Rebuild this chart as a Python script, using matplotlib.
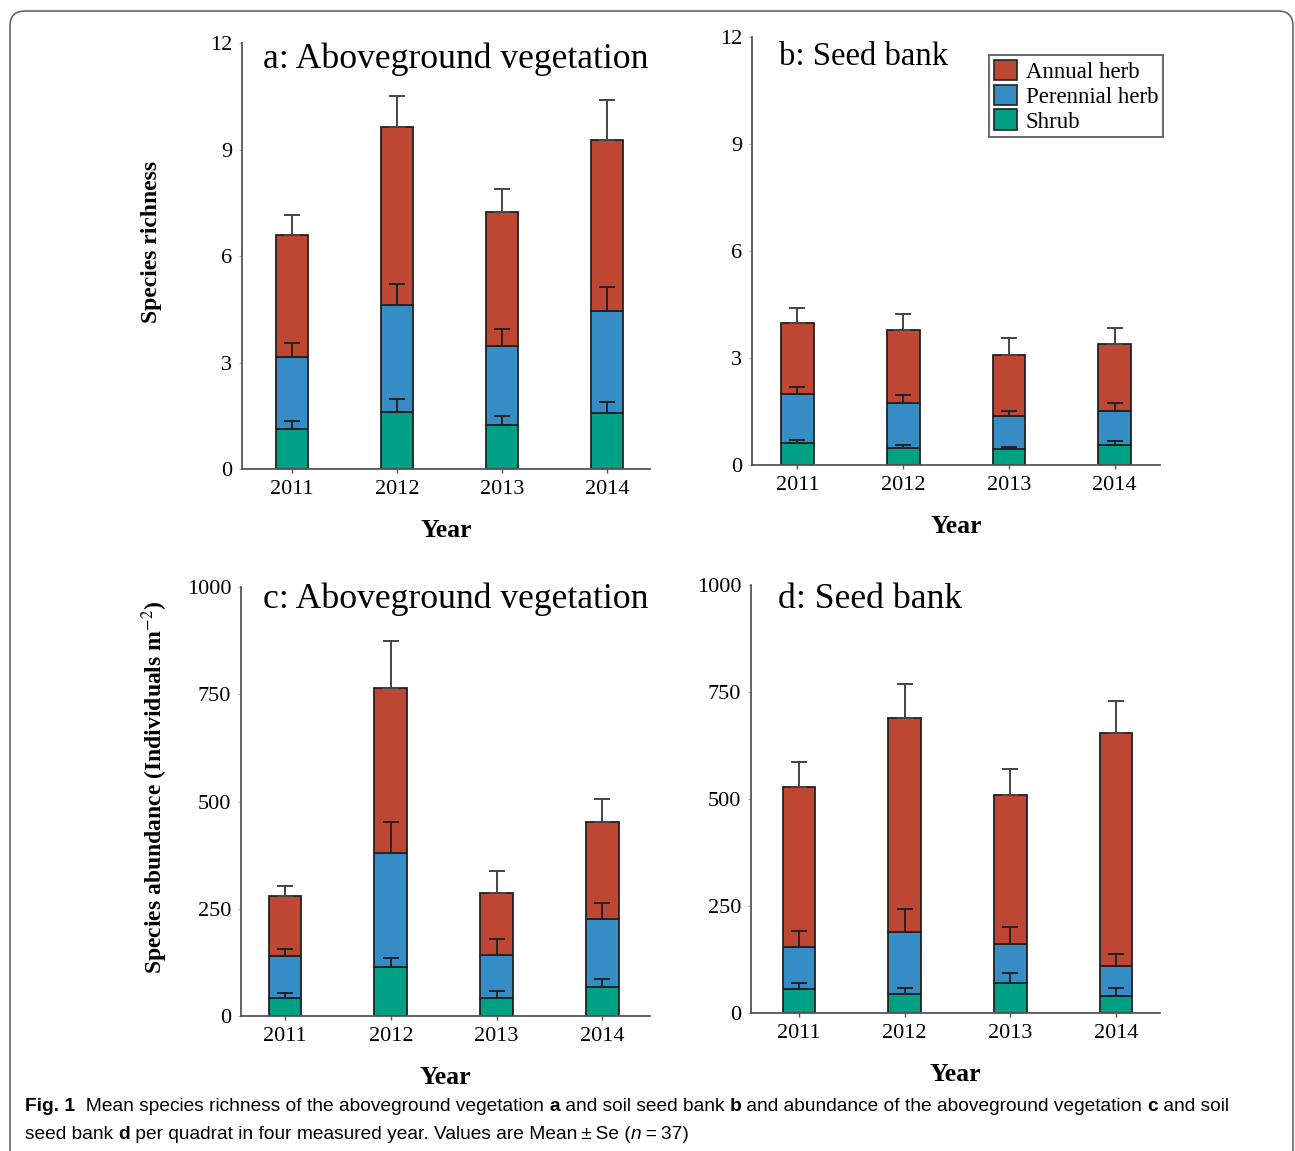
import matplotlib
matplotlib.use('Agg')
import matplotlib.pyplot as plt
from matplotlib.patches import FancyBboxPatch, Patch
import numpy as np

plt.rcParams['font.family'] = ['Liberation Serif', 'DejaVu Serif']
plt.rcParams['mathtext.fontset'] = 'stix'

years = ['2011', '2012', '2013', '2014']
groups = ['Annual herb', 'Perennial herb', 'Shrub']

# a: species richness, aboveground vegetation
a_shrub = [1.13, 1.62, 1.25, 1.58]
a_shrub_se = [0.21, 0.36, 0.23, 0.30]
a_peren = [2.02, 3.00, 2.21, 2.86]
a_peren_se = [0.40, 0.59, 0.49, 0.70]
a_annual = [3.45, 5.01, 3.78, 4.84]
a_annual_se = [0.55, 0.87, 0.65, 1.12]

# b: species richness, seed bank
b_shrub = [0.61, 0.47, 0.44, 0.56]
b_shrub_se = [0.09, 0.09, 0.06, 0.12]
b_peren = [1.38, 1.28, 0.94, 0.96]
b_peren_se = [0.21, 0.20, 0.14, 0.21]
b_annual = [1.99, 2.04, 1.70, 1.87]
b_annual_se = [0.42, 0.45, 0.47, 0.46]

# c: abundance, aboveground vegetation
c_shrub = [41, 114, 42, 67]
c_shrub_se = [13, 21, 16, 19]
c_peren = [99, 267, 100, 159]
c_peren_se = [16, 71, 38, 37]
c_annual = [141, 383, 145, 227]
c_annual_se = [23, 111, 52, 52]

# d: abundance, seed bank
d_shrub = [56, 45, 72, 41]
d_shrub_se = [16, 13, 23, 17]
d_peren = [100, 146, 91, 70]
d_peren_se = [37, 52, 38, 28]
d_annual = [373, 499, 347, 543]
d_annual_se = [59, 78, 60, 75]

col_annual = '#BE4734'
col_peren = '#368DC6'
col_shrub = '#00A085'

fig = plt.figure(figsize=(12.95, 11.51), dpi=100)

# rounded frame round the whole figure
frame = FancyBboxPatch((0.10, -0.3), 12.83, 11.70, boxstyle='round,pad=0,rounding_size=0.15',
                       transform=fig.dpi_scale_trans, facecolor='none', edgecolor='#666666',
                       linewidth=1.2)
fig.patches.append(frame)

panels = [
    ([0.1869, 0.5925, 0.3151, 0.3701], (-0.476, 3.41), 12, [0, 3, 6, 9, 12],
     (a_shrub, a_shrub_se, a_peren, a_peren_se, a_annual, a_annual_se),
     'a: Aboveground vegetation', (0.2031, 0.9409), 25.7),
    ([0.5807, 0.5960, 0.3151, 0.3718], (-0.43, 3.43), 12, [0, 3, 6, 9, 12],
     (b_shrub, b_shrub_se, b_peren, b_peren_se, b_annual, b_annual_se),
     'b: Seed bank', (0.6015, 0.9435), 23.6),
    ([0.1861, 0.1173, 0.3158, 0.3725], (-0.416, 3.45), 1000, [0, 250, 500, 750, 1000],
     (c_shrub, c_shrub_se, c_peren, c_peren_se, c_annual, c_annual_se),
     'c: Aboveground vegetation', (0.2031, 0.4718), 25.7),
    ([0.5799, 0.1196, 0.3158, 0.3721], (-0.454, 3.415), 1000, [0, 250, 500, 750, 1000],
     (d_shrub, d_shrub_se, d_peren, d_peren_se, d_annual, d_annual_se),
     'd: Seed bank', (0.6008, 0.4718), 25.7),
]

axes = []
for rect, xl, ymax, yt, vals, title, tpos, tsize in panels:
    ax = fig.add_axes(rect)
    shrub, shrub_se, peren, peren_se, annual, annual_se = [np.array(v, dtype=float) for v in vals]
    x = np.arange(len(years))
    w = 0.31
    ax.bar(x, shrub, w, color=col_shrub, edgecolor='#222222', linewidth=1.3, zorder=2)
    ax.bar(x, peren, w, bottom=shrub, color=col_peren, edgecolor='#222222', linewidth=1.3, zorder=2)
    ax.bar(x, annual, w, bottom=shrub + peren, color=col_annual, edgecolor='#222222',
           linewidth=1.3, zorder=2)
    tops = [shrub, shrub + peren, shrub + peren + annual]
    ses = [shrub_se, peren_se, annual_se]
    ecols = ['#222222', '#222222', '#444444']
    for top, se, ec in zip(tops, ses, ecols):
        ax.errorbar(x, top, yerr=[np.zeros_like(se), se], fmt='none', ecolor=ec,
                    elinewidth=1.4, capsize=6, capthick=1.4, zorder=3)
    ax.set_xlim(*xl)
    ax.set_ylim(0, ymax)
    ax.set_xticks(x)
    ax.set_xticklabels(years)
    ax.set_yticks(yt)
    ax.spines['top'].set_visible(False)
    ax.spines['right'].set_visible(False)
    for s in ['left', 'bottom']:
        ax.spines[s].set_color('#555555')
        ax.spines[s].set_linewidth(1.3)
    ax.tick_params(axis='x', length=3, width=1, color='#555555', labelsize=16, pad=5)
    ax.tick_params(axis='y', length=2, width=0.8, color='#aaaaaa', labelsize=16, pad=5)
    ax.set_xlabel('Year', fontsize=18.5, fontweight='bold', labelpad=14)
    fig.text(tpos[0], tpos[1], title, fontsize=tsize, va='baseline', ha='left')
    axes.append(ax)

leg_handles = [Patch(facecolor=col_annual, edgecolor='#222222', linewidth=1.2),
               Patch(facecolor=col_peren, edgecolor='#222222', linewidth=1.2),
               Patch(facecolor=col_shrub, edgecolor='#222222', linewidth=1.2)]
leg = axes[1].legend(leg_handles, groups, loc='upper right', bbox_to_anchor=(1.007, 0.958),
                     fontsize=16.5, frameon=True, fancybox=False, edgecolor='#222222',
                     handlelength=1.0, handleheight=1.0, handletextpad=0.4,
                     labelspacing=0.08, borderpad=0.2, borderaxespad=0)
leg.get_frame().set_linewidth(1.2)

fig.text(152 / 1295, 0.79, 'Species richness', rotation=90, fontsize=17,
         fontweight='bold', ha='center', va='center')
fig.text(155 / 1295, 0.3162, r'Species abundance (Individuals m$^{-2}$)', rotation=90,
         fontsize=17, fontweight='bold', ha='center', va='center')

# caption with mixed weights, drawn piece by piece
cap_font = ['Liberation Sans', 'DejaVu Sans']
cap_size = 13.8
renderer = fig.canvas.get_renderer()


def text_width(s, **kw):
    t = fig.text(0, 0, '|' + s + '|', **kw)
    w1 = t.get_window_extent(renderer).width
    t.set_text('||')
    w2 = t.get_window_extent(renderer).width
    t.remove()
    return (w1 - w2) / fig.bbox.width


def caption_line(x, y, parts):
    for s, weight, style in parts:
        kw = dict(family=cap_font, fontsize=cap_size, fontweight=weight, fontstyle=style)
        fig.text(x, y, s, va='baseline', ha='left', **kw)
        x += text_width(s, **kw)


caption_line(25 / 1295, 1 - 1111 / 1151, [
    ('Fig. 1', 'bold', 'normal'),
    ('  Mean species richness of the aboveground vegetation ', 'normal', 'normal'),
    ('a', 'bold', 'normal'),
    (' and soil seed bank ', 'normal', 'normal'),
    ('b', 'bold', 'normal'),
    (' and abundance of the aboveground vegetation ', 'normal', 'normal'),
    ('c', 'bold', 'normal'),
    (' and soil', 'normal', 'normal'),
])
caption_line(25 / 1295, 1 - 1139 / 1151, [
    ('seed bank ', 'normal', 'normal'),
    ('d', 'bold', 'normal'),
    (' per quadrat in four measured year. Values are Mean\u2009\u00b1\u2009Se (', 'normal', 'normal'),
    ('n', 'normal', 'italic'),
    ('\u2009=\u200937)', 'normal', 'normal'),
])

fig.savefig('out.png', dpi=100)
